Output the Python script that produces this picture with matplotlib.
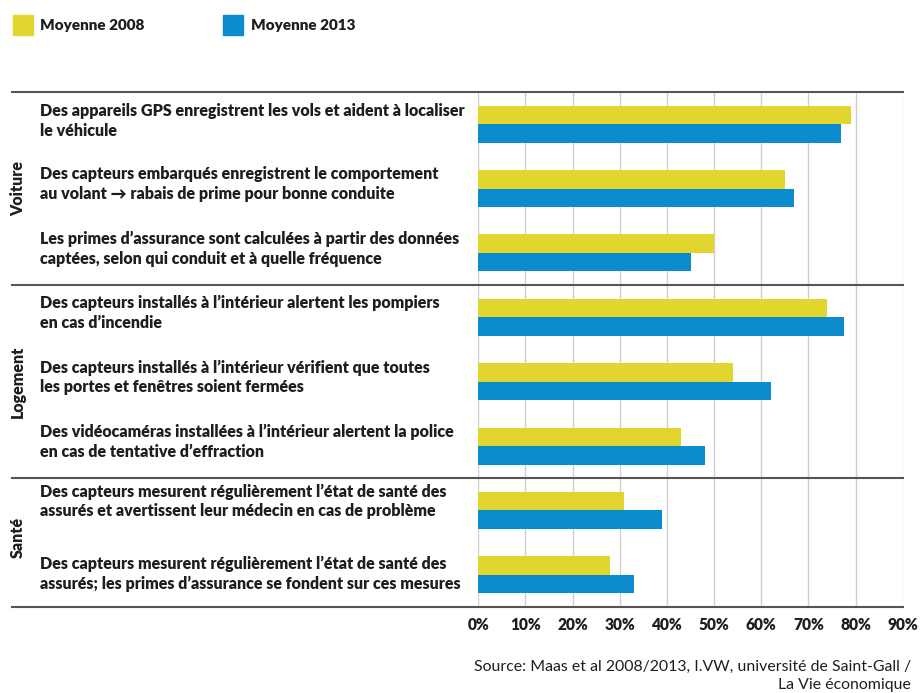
import matplotlib
matplotlib.use("Agg")
import matplotlib.pyplot as plt
from matplotlib.patches import Rectangle
from matplotlib.transforms import blended_transform_factory
import numpy as np

plt.rcParams['font.family'] = ['Lato', 'DejaVu Sans']

labels = [
    "Des appareils GPS enregistrent les vols et aident à localiser\nle véhicule",
    "Des capteurs embarqués enregistrent le comportement\nau volant \u2192 rabais de prime pour bonne conduite",
    "Les primes d\u2019assurance sont calculées à partir des données\ncaptées, selon qui conduit et à quelle fréquence",
    "Des capteurs installés à l\u2019intérieur alertent les pompiers\nen cas d\u2019incendie",
    "Des capteurs installés à l\u2019intérieur vérifient que toutes\nles portes et fenêtres soient fermées",
    "Des vidéocaméras installées à l\u2019intérieur alertent la police\nen cas de tentative d\u2019effraction",
    "Des capteurs mesurent régulièrement l\u2019état de santé des\nassurés et avertissent leur médecin en cas de problème",
    "Des capteurs mesurent régulièrement l\u2019état de santé des\nassurés; les primes d\u2019assurance se fondent sur ces mesures",
]
groups = ["Voiture", "Logement", "Santé"]
group_sizes = [3, 3, 2]
values_2008 = [79, 65, 50, 74, 54, 43, 31, 28]
values_2013 = [77, 67, 45, 77.5, 62, 48, 39, 33]
series_names = ["Moyenne 2008", "Moyenne 2013"]
xticks = [0, 10, 20, 30, 40, 50, 60, 70, 80, 90]
source = "Source: Maas et al 2008/2013, I.VW, université de Saint-Gall /\nLa Vie économique"

YELLOW = "#E2D62E"
BLUE = "#0A8CCE"
TXT = "#1e1e1e"
WEIGHT = "heavy"
FS = 11.5
W, H = 923, 693

fig = plt.figure(figsize=(W / 100, H / 100), dpi=100)
ax = fig.add_axes([478.3 / W, 1 - 607 / H, (902.7 - 478.3) / W, (607 - 92) / H])

n = len(labels)
y = np.arange(n)
bh = 0.287
ax.barh(y - bh / 2, values_2008, height=bh, color=YELLOW, zorder=3)
ax.barh(y + bh / 2, values_2013, height=bh, color=BLUE, zorder=3)

ax.set_xlim(0, 90)
ax.set_ylim(n - 0.5, -0.5)
ax.set_xticks(xticks)
ax.set_xticklabels([f"{t}%" for t in xticks], fontweight=WEIGHT, fontsize=11.2, color=TXT)
ax.set_yticks([])
ax.tick_params(axis="x", length=0, pad=7)
for s in ax.spines.values():
    s.set_visible(False)
ax.xaxis.grid(True, color="#cfcfcf", lw=1.0, zorder=0)
ax.set_axisbelow(True)

tr = blended_transform_factory(fig.transFigure, ax.transData)
bounds = [-0.5]
acc = -0.5
for g in group_sizes:
    acc += g
    bounds.append(acc)
for b in bounds:
    ax.plot([12 / W, 903 / W], [b, b], transform=tr, color="#555555", lw=1.5, clip_on=False, zorder=4)

offsets = [-0.045, -0.07, -0.06, -0.07, -0.07, -0.07, -0.14, -0.01]
for i, lab in enumerate(labels):
    ax.text(40 / W, i + offsets[i], lab, transform=tr, ha="left", va="center",
            fontsize=FS, fontweight=WEIGHT, color=TXT, linespacing=1.28)

start = 0
for g, sz in zip(groups, group_sizes):
    center = start + (sz - 1) / 2
    if g == "Santé":
        center = start + 0.42
    ax.text(18 / W, center, g, transform=tr, rotation=90, ha="center", va="center",
            fontsize=FS, fontweight=WEIGHT, color=TXT)
    start += sz

for (x0, name, col) in [(12.5, series_names[0], YELLOW), (223, series_names[1], BLUE)]:
    fig.patches.append(Rectangle((x0 / W, 1 - 35 / H), 20 / W, 20 / H, transform=fig.transFigure,
                                 color=col))
    fig.text((x0 + 28) / W, 1 - 25 / H, name, ha="left", va="center", fontsize=11.0,
             fontweight=WEIGHT, color=TXT)

fig.text(911 / W, 1 - 676 / H, source, ha="right", va="center", fontsize=11.4, color=TXT,
         linespacing=1.3)

fig.savefig("out.png", dpi=100)
